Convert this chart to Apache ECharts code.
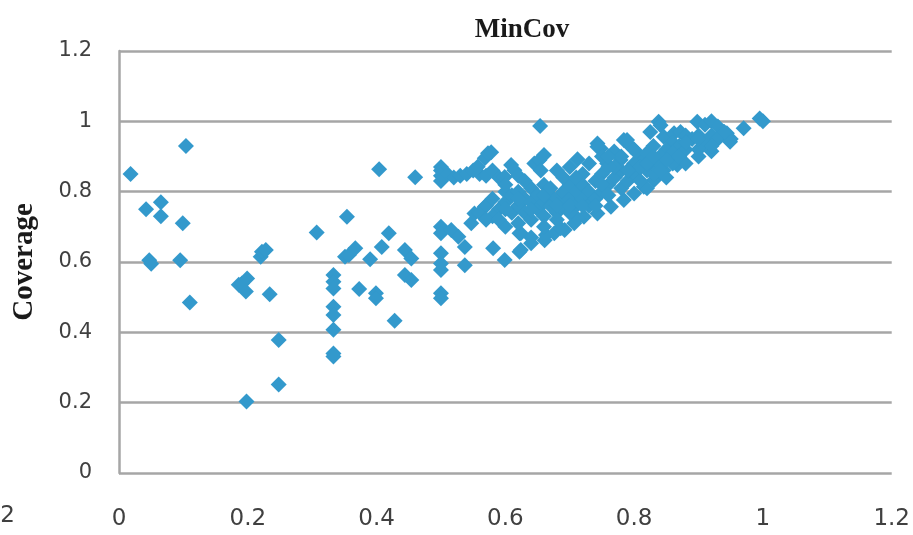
<!DOCTYPE html>
<html>
<head>
<meta charset="utf-8">
<script src="https://cdn.jsdelivr.net/npm/echarts@6/dist/echarts.min.js"></script>
<style>
html,body{margin:0;padding:0;background:#fff;}
#chart{width:913px;height:535px;}
</style>
</head>
<body>
<div id="chart"></div>
<script>
const chartTitle = 'MinCov';
const yAxisName = 'Coverage';
const xTicks = [0, 0.2, 0.4, 0.6, 0.8, 1, 1.2];
const yTicks = [0, 0.2, 0.4, 0.6, 0.8, 1, 1.2];

// x values (MinCov) and y values (Coverage), read point by point
const pointsX = [
  0.018,0.042,0.065,0.065,0.099,0.104,0.047,0.05,0.095,0.11,
  0.22,0.222,0.228,0.186,0.191,0.199,0.197,0.234,0.248,0.248,0.198,
  0.333,0.333,0.333,0.333,0.333,0.333,0.333,0.333,
  0.307,0.354,0.351,0.357,0.367,0.373,0.39,0.399,0.399,0.404,0.408,0.419,0.428,0.444,0.454,0.444,0.454,0.46,
  0.5,0.5,0.5,0.5,0.5,0.5,0.5,0.5,0.5,0.5,0.5,
  0.516,0.527,0.537,0.537,0.547,0.552,0.568,0.581,0.599,0.622,0.622,
  0.51,0.52,0.53,0.54,0.55,0.56,0.557,0.57,0.58,0.59,0.568,0.573,0.578,0.599,0.609,0.614,0.62,
  0.645,0.653,0.66,0.654,0.712,0.743,0.748,0.758,0.769,0.777,0.779,0.784,0.795,0.805,0.815,0.774,0.789,0.743,
  0.825,0.838,0.841,0.846,0.862,0.846,0.872,0.88,0.898,0.91,0.92,0.93,0.939,0.944,0.97,0.995,1.0,0.86,0.87,0.89,0.9,0.91,0.92,0.88,0.85,0.83,0.82,0.84,0.9,0.93,0.95,
  0.624,0.64,0.661,0.676,0.692,0.707,0.722,0.743,0.764,0.784,0.8,0.815,0.831,0.82,0.85,0.867,0.88,0.9,0.92,0.949,0.663,0.686,0.712,0.624,0.64,
  0.56,0.57,0.58,0.59,0.6,0.6,0.61,0.61,0.62,0.62,0.63,0.63,0.64,0.64,0.65,0.65,0.66,0.66,0.67,0.67,0.68,0.68,0.69,0.69,0.7,0.7,0.71,0.71,0.72,0.72,0.73,0.73,0.74,0.74,0.75,0.75,0.76,0.76,0.77,0.78,0.78,0.79,0.8,0.81,0.82,0.83,0.8,0.77,0.72,0.69,0.66,0.63,0.6,0.58,0.57,0.64,0.62,0.7,0.66,0.68,0.6,0.59,0.655,0.68,0.7,0.73,0.75,0.76,0.81,0.84,0.86,0.83,0.84,
  0.6,0.62,0.64,0.66,0.68,0.7,0.72,0.74,0.67,0.71,0.75,0.79,0.82,0.86,0.88,0.9,0.92,0.94,0.78,0.8,0.76,0.85,0.87,0.83
];
const pointsY = [
  0.85,0.75,0.77,0.73,0.71,0.93,0.605,0.595,0.605,0.485,
  0.615,0.629,0.634,0.535,0.539,0.553,0.516,0.508,0.378,0.252,0.203,
  0.563,0.544,0.525,0.473,0.449,0.407,0.34,0.331,
  0.684,0.729,0.615,0.62,0.639,0.523,0.608,0.511,0.497,0.864,0.643,0.682,0.433,0.634,0.61,0.563,0.549,0.841,
  0.7,0.682,0.625,0.596,0.577,0.511,0.497,0.87,0.86,0.845,0.83,
  0.691,0.672,0.643,0.591,0.71,0.738,0.757,0.639,0.606,0.682,0.629,
  0.85,0.84,0.845,0.85,0.86,0.85,0.871,0.845,0.86,0.84,0.895,0.909,0.912,0.842,0.876,0.861,0.845,
  0.88,0.89,0.904,0.987,0.892,0.937,0.923,0.88,0.914,0.861,0.89,0.947,0.928,0.909,0.89,0.861,0.947,0.928,
  0.97,0.999,0.989,0.956,0.966,0.861,0.97,0.96,0.999,0.99,1.0,0.985,0.97,0.966,0.98,1.008,1.0,0.94,0.93,0.95,0.96,0.94,0.96,0.92,0.92,0.93,0.91,0.9,0.92,0.95,0.95,
  0.634,0.653,0.662,0.682,0.691,0.71,0.729,0.738,0.757,0.776,0.795,0.814,0.833,0.81,0.84,0.876,0.88,0.9,0.915,0.942,0.677,0.696,0.724,0.682,0.67,
  0.74,0.76,0.78,0.75,0.77,0.8,0.79,0.74,0.76,0.8,0.78,0.74,0.77,0.81,0.75,0.79,0.77,0.73,0.79,0.76,0.78,0.74,0.8,0.76,0.78,0.82,0.76,0.8,0.78,0.82,0.8,0.76,0.78,0.83,0.8,0.85,0.82,0.79,0.84,0.81,0.86,0.83,0.85,0.83,0.86,0.88,0.88,0.87,0.85,0.84,0.82,0.83,0.82,0.73,0.72,0.72,0.71,0.74,0.7,0.72,0.7,0.72,0.86,0.86,0.87,0.88,0.9,0.87,0.87,0.87,0.88,0.85,0.86,
  0.75,0.78,0.75,0.79,0.76,0.76,0.76,0.76,0.81,0.84,0.82,0.86,0.88,0.91,0.94,0.95,0.93,0.97,0.9,0.92,0.9,0.89,0.9,0.9
];

const seriesData = pointsX.map((x, i) => [x, pointsY[i]]);

const chart = echarts.init(document.getElementById('chart'));
const labelFont = '"DejaVu Sans", sans-serif';
const serifFont = '"Liberation Serif", "Times New Roman", serif';
chart.setOption({
  animation: false,
  backgroundColor: '#ffffff',
  title: {
    text: chartTitle,
    left: 517,
    top: 12,
    textAlign: 'center',
    textStyle: { fontFamily: serifFont, fontWeight: 'bold', fontSize: 27, color: '#1a1a1a' }
  },
  grid: { left: 119, right: 18, top: 51, bottom: 62, containLabel: false },
  xAxis: {
    type: 'value', min: xTicks[0], max: xTicks[xTicks.length - 1], interval: 0.2,
    axisLine: { show: false },
    axisTick: { show: false },
    splitLine: { show: false },
    axisLabel: { margin: 35, fontFamily: labelFont, fontSize: 23, color: '#404040' }
  },
  yAxis: {
    type: 'value', min: yTicks[0], max: yTicks[yTicks.length - 1], interval: 0.2,
    name: yAxisName,
    nameLocation: 'middle',
    nameGap: 80,
    nameTextStyle: { fontFamily: serifFont, fontWeight: 'bold', fontSize: 29, color: '#1a1a1a' },
    axisLine: { show: true, lineStyle: { color: '#a6a6a6', width: 2.5 } },
    axisTick: { show: false },
    splitLine: { show: true, lineStyle: { color: '#a6a6a6', width: 2.5 } },
    axisLabel: { margin: 27, fontFamily: labelFont, fontSize: 21, color: '#404040' }
  },
  graphic: [{
    type: 'text', left: -30, top: 505, silent: true,
    style: { text: '-0.2', fontFamily: labelFont, fontSize: 23, fill: '#404040' }
  }],
  series: [{
    type: 'scatter',
    symbol: 'diamond',
    symbolSize: [16, 16],
    itemStyle: { color: '#3399cc', opacity: 1 },
    data: seriesData
  }]
});
</script>
</body>
</html>
